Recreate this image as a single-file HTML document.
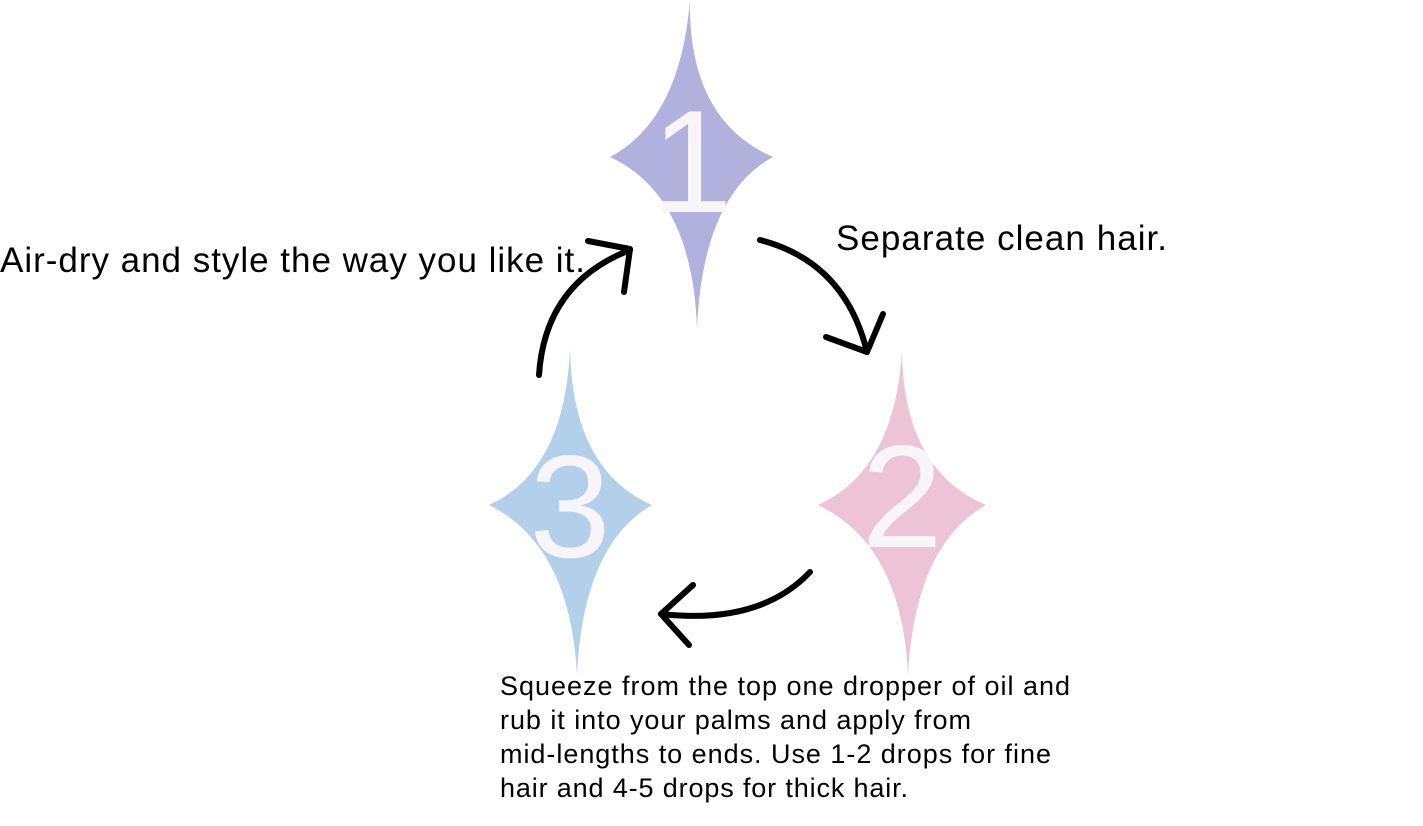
<!DOCTYPE html>
<html><head><meta charset="utf-8"><style>
html,body{margin:0;padding:0;background:#fff;}
svg{display:block;}
text{font-family:"Liberation Sans",Arial,sans-serif;}
</style></head><body>
<svg width="1423" height="826" viewBox="0 0 1423 826">
<g>
<path fill="#b1b1dd" d="M690,0 Q688,120 773,157 Q703,195 697,328 Q692,195 610,157 Q680,120 690,0 Z"/>
<text x="692" y="212" font-size="146" fill="#f7f5f7" text-anchor="middle">1</text>
</g>
<g>
<path fill="#ecc4d5" d="M902,350 Q903,470 986,505 Q915,545 908,675 Q902,545 818,505 Q895,470 902,350 Z"/>
<text x="902" y="547" font-size="146" fill="#f7f5f7" text-anchor="middle">2</text>
</g>
<g>
<path fill="#b2d0ea" d="M570,348 Q572,470 652,505 Q583,545 577,675 Q570,545 489,505 Q565,470 570,348 Z"/>
<text x="570" y="557" font-size="146" fill="#f7f5f7" text-anchor="middle">3</text>
</g>
<g fill="none" stroke="#000" stroke-width="6" stroke-linecap="round" stroke-linejoin="round">
<g>
<path d="M760,240 Q845,262 867,352"/>
<path d="M826,337 L867,352 L883,314"/>
</g>
<g>
<path d="M810,572 Q760,625 661,614"/>
<path d="M693,585 L661,614 L689,645"/>
</g>
<g>
<path d="M539,375 Q545,283 630,250"/>
<path d="M588,241 L630,249 L624,292"/>
</g>
</g>
<text x="0" y="272" font-size="35" textLength="585" lengthAdjust="spacing" fill="#000">Air-dry and style the way you like it.</text>
<text x="836" y="250" font-size="35" textLength="331" lengthAdjust="spacing" fill="#000">Separate clean hair.</text>
<g font-size="27" fill="#000">
<text x="500" y="695" textLength="570" lengthAdjust="spacing">Squeeze from the top one dropper of oil and</text>
<text x="500" y="729" textLength="471" lengthAdjust="spacing">rub it into your palms and apply from</text>
<text x="500" y="763" textLength="551" lengthAdjust="spacing">mid-lengths to ends. Use 1-2 drops for fine</text>
<text x="500" y="797" textLength="408" lengthAdjust="spacing">hair and 4-5 drops for thick hair.</text>
</g>
</svg>
</body></html>
